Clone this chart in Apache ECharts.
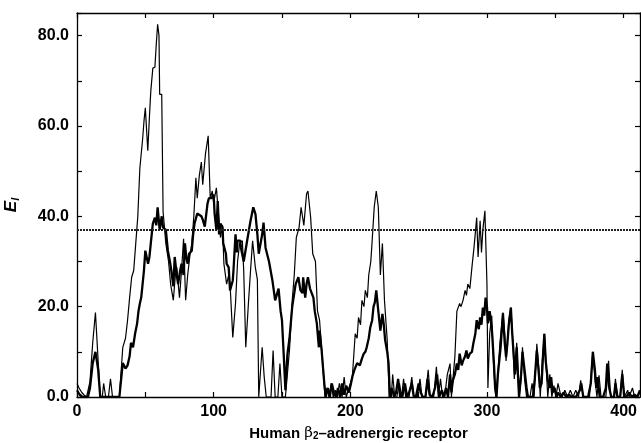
<!DOCTYPE html>
<html>
<head>
<meta charset="utf-8">
<script src="https://cdn.jsdelivr.net/npm/echarts@6/dist/echarts.min.js"></script>
<style>
  html, body { margin: 0; padding: 0; background: #fff; }
  #chart { width: 641px; height: 443px; }
</style>
</head>
<body>
<div id="chart"></div>
<script>
// hydrophobicity-like profile along the receptor sequence, two window settings
var thinRes = [0,1.5,3.5,5,7,9.5,11.5,13.5,15,17,18.5,19.5,21,23,24.5,26,28,31,33.5,35.5,37,38.5,40,41.5,43,44.5,46,48,49,50,51.8,53,54,55.5,57,58,59,60,60.5,62,63,65,67,68.5,70.5,72,73,75,76.5,78,79.5,81,82.5,84,85.5,87,88,89.5,91,92,94,96,97.5,99,100,102,103.5,105,106.5,107.5,109.5,111,112,114,116,117.5,119,121,122,123.5,125.5,127,128.5,130.5,132,133,135.5,137,138.5,140,142,143.5,145,147,148.5,150,152.5,155.5,157.5,159,160.5,162.5,164,166,168,169,171,172.5,174.5,176,177.5,179.5,181.5,183,184.5,186,187.5,189,190.5,192,194,195.5,197,199,201.5,203.6,205,206,207.5,208.5,210,211,212.5,213.5,215,216,217.5,219,220.5,222,223.5,225,227,228.5,230,231,232.5,234,236,237.5,239,240.5,243,245,246.5,249,251,252.5,255,257,258.5,261,263,264.5,266,267.5,269,271,273,274,275,276.5,278,280,281,282.5,284,285,286,287.5,289,290.5,292.5,293.5,295,296,297,298.5,300,300.7,302,303.5,305,306.5,308,309.5,311.7,313,314,316,317.5,319,320,321.8,323.5,325,326,327.5,329,331.5,333,334.5,336.5,338,339,340.5,342,343.5,344.5,346,347.5,349,350.5,352,353.5,355,357,359,361,363,365,367,368.6,370.5,373,375,377.5,379,380.5,382,383.5,387,389,390.5,393,394,395.5,397.5,399,400.5,403,404,406.5,408,410,412];
var thinE = [3,2,1,0.5,0,3.4,12,18.7,10.5,0,0,3,0,0,4,0,0,0,11,13,17,22,26.5,28,34,40,50.7,57,61,64,54.5,62,67.7,72.8,73,78,82.5,80,67,67,41,34,30,25,21.4,27,28.7,22,28,35,21.4,27,31,34,40,48.5,44,49,52,47,53.8,57.8,44,45.6,43,46.3,40.5,35.3,38,29.5,25,27,25,13.2,20.7,30,34,34.6,28,11,21,28,34.6,28.7,26,0,11,4.4,0,0,0,10.3,0,0,7.4,0,0,10.4,21.4,27,35.3,37.5,42,38,45,45.6,39.7,31.7,30,19,17,8.8,0,2,0,3,0,1.5,0,3,0,4.4,0,2,4.5,14,13,17.6,16,21.4,20,23.6,22,27,30,34.6,42,45.6,42,27,34,21.4,12.6,0,0,5,0,0,3,0,4,0,0,4.4,0,0,4,0,0,6,0,0,6.7,0,4,0,0,5,7.4,0,0,8.8,19,20.7,20,21.4,23.6,22.5,25,24,28.7,33,39.7,31,39,32,37,41.2,25,2,14,18,6,0,5,12,18.7,14,8,17,19.8,12,4,12,0,4,11,4,0,0,3,0,11.8,6,0,8,14,6,0,5,0,2.5,0,3,1,0,1.5,0,1.5,0,1.5,0,3.7,0,0,0,10,4,0,4.8,0,0,8,0,0,4,0,0,6,0,1.5,0,2,0,0,1];

var thickRes = [0,2,4,6,8,9.5,11.5,13.5,15.5,17,19,21,24,27,29,31,33.5,35.5,37,38.5,39.5,41,42.5,44,45,46,47,48,49,50,52,53,54,55.5,57,58,59,60.5,62,63,65,66.5,68,69,70.5,71.5,73,74,75.5,76.5,78,79,80,81,82,84,85,86,88,89,91,92,93.5,95.5,96.5,98.5,100,100.7,102,103,104,105,106.5,107,109,109.5,111,112,114,114.5,116,117,117.5,119.5,120,122,124.5,127,129,130.6,132,133,135.5,136.5,138,140.5,143,145,147.5,149,150,151.5,152.5,154,155.5,157.5,159,160,162,163.5,165,165.5,167,168,169,170.5,171.5,173,174,175.5,177,177.5,179,180,181,182,183.5,185,186.5,188,189.5,191,192.5,194,195.5,197,199,200.5,201.5,203,205,207,208.5,209.7,211,212,213.5,214.6,216,217,218,219,220.5,222,223.5,224.5,225.5,227,228,229,230.5,232,233.5,235,236.5,238,240,241.5,243,245,246.5,248,250,251.5,253,255,256.5,258,260,262,263.5,265,267,268.5,270,271.5,273,274,275,276.5,278,279,280,281.5,282.5,284,285,286,287.5,289,290,291.5,292.5,294,295,296,297,298,299,300,300.7,302,303.6,305,306,307,308,310,311.7,313,314,315,316,317.5,318.5,319.7,320.5,321.8,322.5,323.5,325,326,327.5,329,330,331.5,333.6,335,336.5,338,338.7,340,341,342,343,344.5,346,347,348,349.6,351,352,354,356,358,360,362,365,368,369,370.5,374,376,377.5,379,380,381,382.5,385,387,388,389.5,391,393,394,395.5,397.5,399,400.5,402,404,406,408,410,412];
var thickE = [1.5,0.5,0,0,0,2,7.5,10,6,0,0,0,0,0,0,0,7.5,6.3,7,9,12,11,14,16.3,19,20.7,22,25,28,32.4,29.5,31,34,38.4,39.7,38,42,37,40,37.5,37,32.4,30,28,24.5,31,27,25,28,29.5,27,34,30.8,29.5,31.7,32.4,36,38.4,40.6,40.5,40,39.3,37.7,42.8,44,44,44.8,40.6,37,43.4,36,38.4,37.5,34,31.7,29.5,28.7,23.6,25.8,28,36,32,34.6,34.6,33,30,34.6,39,42,40.5,36,31.7,36,38.6,33,30,25.8,21.4,24,19,17,8,1.5,9.5,13,20,23,25,26.5,23.6,23,26.5,22,25,26.5,24,23.6,22,19,16.3,11,14.7,10.4,6.6,2.9,0,2,0,3,1,0,2,0,3,0.5,2.5,1,3,4.5,6,7.5,7,8.5,9.5,10,11,13,15.4,17,20,21,23.6,19,14.7,18.4,16,12.6,10,7.5,0,2,0,1,4,0,0,3,0,1,3,0,0,3,1,0,0,4,0.5,0,2,5,0,1.5,0,2,0,5,1,3.6,5,7.4,6,9.6,7,8,9,10.3,8.5,9.6,10,11.8,14,17,15,17.6,16,19.8,18,22,20,16.3,19,15,8,2,0,5,11,18.5,12,8.8,12,16,19.8,14,8.8,5,11,6,0,5,10,6,2,0,0,0,4,10.3,5,2,3,9,14,8,3.7,2,4.4,1,2,0,1,0,1,0,0.5,0,0,1.5,3,0,0,3,10,6,2,4.4,0,0,2,7.4,2,0,0,3,0,0,5,0,0,1,0,0.5,0,1.5];

var threshold = 37;
var xTicks = [0, 100, 200, 300, 400];
var yTicks = [0, 20, 40, 60, 80];

function zip(xs, ys) {
  var out = [];
  for (var i = 0; i < xs.length; i++) out.push([xs[i], ys[i]]);
  return out;
}

var font = '"Liberation Sans", Arial, Helvetica, sans-serif';
var ink = '#000';

var myChart = echarts.init(document.getElementById('chart'), null, {renderer: 'canvas'});

var axisLine = {show: true, onZero: false, lineStyle: {color: ink, width: 1.3}};
var tickIn = {show: true, inside: true, length: 5, lineStyle: {color: ink, width: 1.2}};

var option = {
  animation: false,
  backgroundColor: '#fff',
  grid: {left: 77, right: 1, top: 13, bottom: 46, containLabel: false, outerBoundsMode: 'none'},
  xAxis: [{
    type: 'value',
    min: 0,
    max: 412,
    interval: 50,
    axisLine: axisLine,
    axisTick: tickIn,
    splitLine: {show: false},
    axisLabel: {
      color: ink,
      fontFamily: font,
      fontWeight: 'bold',
      fontSize: 16,
      margin: 7,
      formatter: function (v) { return xTicks.indexOf(v) >= 0 ? String(v) : ''; }
    },
    name: 'Human {b|β}{s|2}–adrenergic receptor',
    nameLocation: 'middle',
    nameGap: 29,
    nameTextStyle: {
      color: ink,
      fontFamily: font,
      fontWeight: 'bold',
      fontSize: 15,
      rich: {
        b: {fontFamily: '"DejaVu Serif", serif', fontSize: 15, fontWeight: 'normal', color: ink},
        s: {fontFamily: font, fontWeight: 'bold', fontSize: 10, color: ink, verticalAlign: 'bottom', padding: [5, 0, 0, 0]}
      }
    }
  }, {
    type: 'value',
    position: 'top',
    min: 0,
    max: 412,
    interval: 50,
    axisLine: axisLine,
    axisTick: tickIn,
    axisLabel: {show: false},
    splitLine: {show: false}
  }],
  yAxis: [{
    type: 'value',
    min: 0,
    max: 85,
    interval: 10,
    axisLine: axisLine,
    axisTick: tickIn,
    splitLine: {show: false},
    axisLabel: {
      color: ink,
      fontFamily: font,
      fontWeight: 'bold',
      fontSize: 16,
      margin: 8,
      formatter: function (v) { return yTicks.indexOf(v) >= 0 ? v.toFixed(1) : ''; }
    },
    name: '{e|E}{s|I}',
    nameLocation: 'middle',
    nameRotate: 90,
    nameGap: 56,
    nameTextStyle: {
      rich: {
        e: {fontFamily: font, fontWeight: 'bold', fontStyle: 'italic', fontSize: 17, color: ink},
        s: {fontFamily: font, fontWeight: 'bold', fontStyle: 'italic', fontSize: 11, color: ink, verticalAlign: 'bottom', padding: [8, 0, 0, 0]}
      }
    }
  }, {
    type: 'value',
    position: 'right',
    min: 0,
    max: 85,
    interval: 10,
    axisLine: axisLine,
    axisTick: tickIn,
    axisLabel: {show: false},
    splitLine: {show: false}
  }],
  series: [{
    name: 'thin',
    type: 'line',
    showSymbol: false,
    symbol: 'none',
    lineStyle: {color: ink, width: 1.2},
    data: zip(thinRes, thinE),
    z: 3
  }, {
    name: 'thick',
    type: 'line',
    showSymbol: false,
    symbol: 'none',
    lineStyle: {color: ink, width: 2.3},
    data: zip(thickRes, thickE),
    z: 4,
    markLine: {
      silent: true,
      symbol: 'none',
      label: {show: false},
      lineStyle: {color: '#222', type: [2, 1], width: 2},
      data: [{yAxis: threshold}]
    }
  }]
};
myChart.setOption(option);
</script>
</body>
</html>
